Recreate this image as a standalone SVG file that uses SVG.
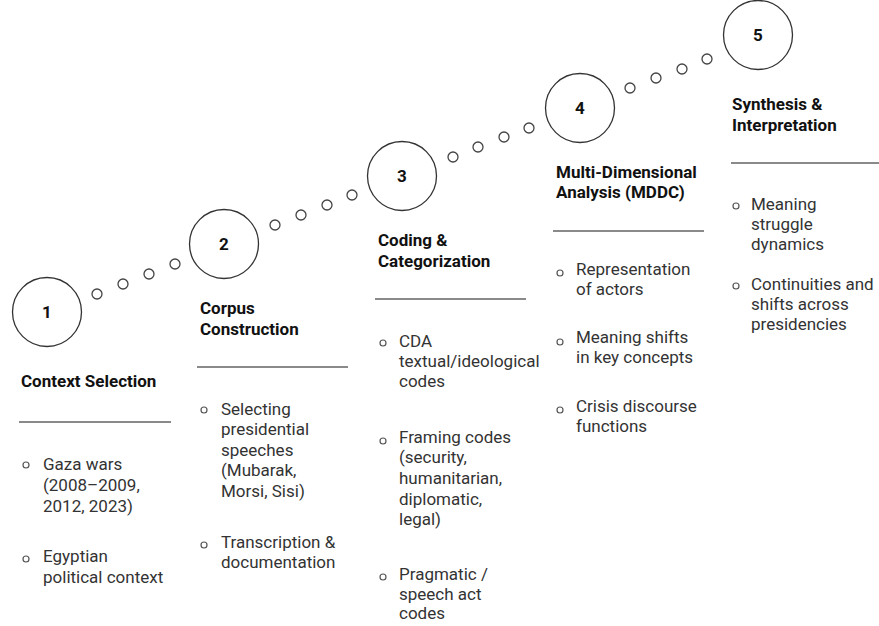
<svg xmlns="http://www.w3.org/2000/svg" width="879" height="626" viewBox="0 0 879 626">
<style>
.big{fill:#fff;stroke:#333;stroke-width:1.3}
.dot{fill:#fff;stroke:#444;stroke-width:1.3}
.num{font-family:Roboto,"Liberation Sans",sans-serif;font-weight:bold;font-size:17px;fill:#111;text-anchor:middle}
.title{font-family:Roboto,"Liberation Sans",sans-serif;font-weight:bold;font-size:17px;fill:#111}
.body{font-family:Roboto,"Liberation Sans",sans-serif;font-size:17px;fill:#333}
.rule{stroke:#8a8a8a;stroke-width:2}
.bul{fill:none;stroke:#555;stroke-width:1.2}
</style>
<rect width="879" height="626" fill="#fff"/>
<g id="connectors">
<circle class="dot" cx="97" cy="294" r="5"/><circle class="dot" cx="123" cy="284" r="5"/><circle class="dot" cx="149" cy="274" r="5"/><circle class="dot" cx="175" cy="264" r="5"/>
<circle class="dot" cx="275" cy="225" r="5"/><circle class="dot" cx="301" cy="215" r="5"/><circle class="dot" cx="327" cy="205" r="5"/><circle class="dot" cx="352" cy="195" r="5"/>
<circle class="dot" cx="453" cy="157" r="5"/><circle class="dot" cx="478" cy="147" r="5"/><circle class="dot" cx="504" cy="137" r="5"/><circle class="dot" cx="529" cy="128" r="5"/>
<circle class="dot" cx="630" cy="88" r="5"/><circle class="dot" cx="656" cy="78" r="5"/><circle class="dot" cx="682" cy="69" r="5"/><circle class="dot" cx="707" cy="59" r="5"/>
</g>
<g id="step1">
<circle class="big" cx="47" cy="312" r="34.5"/>
<text class="num" x="47" y="318">1</text>
<text class="title" x="21" y="387">Context Selection</text>
<line class="rule" x1="19" y1="422" x2="171" y2="422"/>
<circle class="bul" cx="26" cy="465" r="3"/>
<text class="body" x="43" y="470">Gaza wars</text>
<text class="body" x="43" y="491">(2008–2009,</text>
<text class="body" x="43" y="512">2012, 2023)</text>
<circle class="bul" cx="26" cy="559" r="3"/>
<text class="body" x="43" y="562">Egyptian</text>
<text class="body" x="43" y="583">political context</text>
</g>
<g id="step2">
<circle class="big" cx="224" cy="244" r="34.5"/>
<text class="num" x="224" y="250">2</text>
<text class="title" x="200" y="314">Corpus</text>
<text class="title" x="200" y="335">Construction</text>
<line class="rule" x1="197" y1="367" x2="348" y2="367"/>
<circle class="bul" cx="204" cy="410" r="3"/>
<text class="body" x="221" y="415">Selecting</text>
<text class="body" x="221" y="435">presidential</text>
<text class="body" x="221" y="456">speeches</text>
<text class="body" x="221" y="476">(Mubarak,</text>
<text class="body" x="221" y="497">Morsi, Sisi)</text>
<circle class="bul" cx="204" cy="545" r="3"/>
<text class="body" x="221" y="548">Transcription &amp;</text>
<text class="body" x="221" y="568">documentation</text>
</g>
<g id="step3">
<circle class="big" cx="402" cy="176" r="34.5"/>
<text class="num" x="402" y="182">3</text>
<text class="title" x="378" y="246">Coding &amp;</text>
<text class="title" x="378" y="267">Categorization</text>
<line class="rule" x1="375" y1="299" x2="526" y2="299"/>
<circle class="bul" cx="383" cy="343" r="3"/>
<text class="body" x="399" y="347">CDA</text>
<text class="body" x="399" y="367">textual/ideological</text>
<text class="body" x="399" y="387">codes</text>
<circle class="bul" cx="383" cy="441" r="3"/>
<text class="body" x="399" y="443">Framing codes</text>
<text class="body" x="399" y="463">(security,</text>
<text class="body" x="399" y="484">humanitarian,</text>
<text class="body" x="399" y="505">diplomatic,</text>
<text class="body" x="399" y="525">legal)</text>
<circle class="bul" cx="383" cy="577" r="3"/>
<text class="body" x="399" y="580">Pragmatic /</text>
<text class="body" x="399" y="600">speech act</text>
<text class="body" x="399" y="619">codes</text>
</g>
<g id="step4">
<circle class="big" cx="580" cy="108" r="34.5"/>
<text class="num" x="580" y="114">4</text>
<text class="title" x="556" y="178">Multi-Dimensional</text>
<text class="title" x="556" y="198">Analysis (MDDC)</text>
<line class="rule" x1="553" y1="231" x2="704" y2="231"/>
<circle class="bul" cx="560" cy="273" r="3"/>
<text class="body" x="576" y="275">Representation</text>
<text class="body" x="576" y="295">of actors</text>
<circle class="bul" cx="560" cy="342" r="3"/>
<text class="body" x="576" y="343">Meaning shifts</text>
<text class="body" x="576" y="363">in key concepts</text>
<circle class="bul" cx="560" cy="410" r="3"/>
<text class="body" x="576" y="412">Crisis discourse</text>
<text class="body" x="576" y="432">functions</text>
</g>
<g id="step5">
<circle class="big" cx="758" cy="35" r="34.5"/>
<text class="num" x="758" y="41">5</text>
<text class="title" x="732" y="110">Synthesis &amp;</text>
<text class="title" x="732" y="131">Interpretation</text>
<line class="rule" x1="731" y1="163" x2="879" y2="163"/>
<circle class="bul" cx="736" cy="206" r="3"/>
<text class="body" x="751" y="210">Meaning</text>
<text class="body" x="751" y="230">struggle</text>
<text class="body" x="751" y="250">dynamics</text>
<circle class="bul" cx="736" cy="286" r="3"/>
<text class="body" x="751" y="290">Continuities and</text>
<text class="body" x="751" y="310">shifts across</text>
<text class="body" x="751" y="330">presidencies</text>
</g>
</svg>
